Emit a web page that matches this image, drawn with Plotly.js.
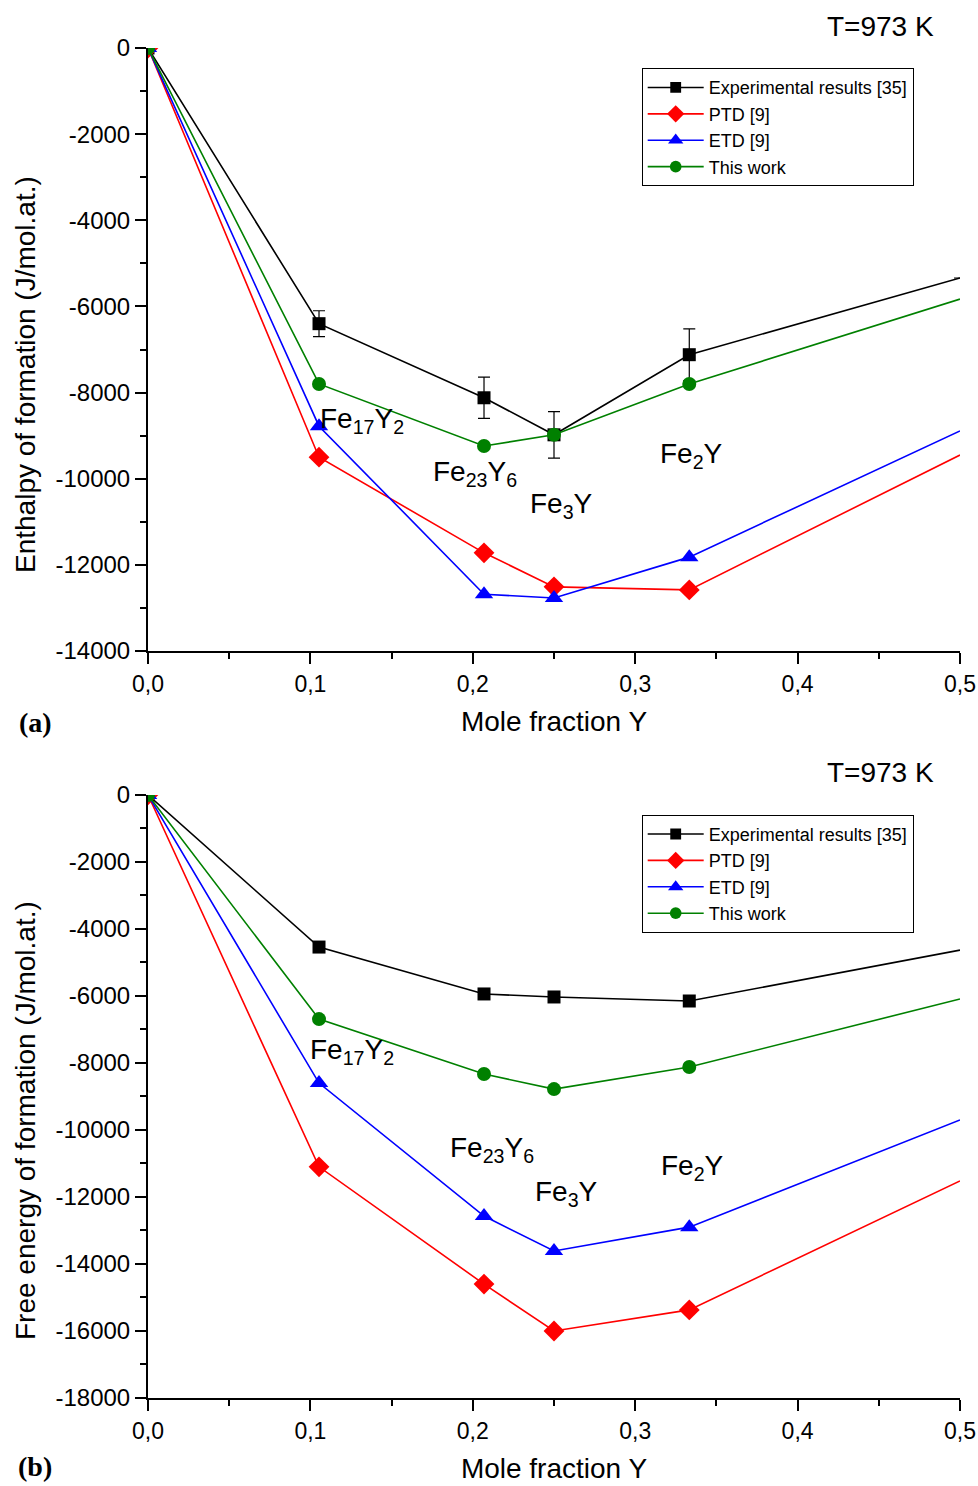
<!DOCTYPE html>
<html>
<head>
<meta charset="utf-8">
<script src="https://cdn.plot.ly/plotly-3.0.1.min.js"></script>
<style>html,body{margin:0;padding:0;background:#fff;}#chart{width:978px;height:1486px;}</style>
</head>
<body>
<div id="chart"></div>
<script>
// ---- data ----
var molefrac = [0, 0.1053, 0.2069, 0.25, 0.3333, 0.5];
var seriesNames = ["Experimental results [35]", "PTD [9]", "ETD [9]", "This work"];

// (a) Enthalpy of formation (J/mol.at.)
var enthExp  = [0, -6400, -8120, -8980, -7120, -5340];
var enthExpErr = [0, 300, 480, 540, 600, 0];
var enthPTD  = [0, -9500, -11720, -12510, -12580, -9450];
var enthETD  = [0, -8780, -12680, -12770, -11820, -8890];
var enthThis = [0, -7800, -9240, -8980, -7800, -5830];

// (b) Free energy of formation (J/mol.at.)
var gibbsExp  = [0, -4540, -5940, -6030, -6150, -4630];
var gibbsPTD  = [0, -11100, -14600, -16000, -15370, -11520];
var gibbsETD  = [0, -8600, -12570, -13610, -12900, -9700];
var gibbsThis = [0, -6690, -8330, -8780, -8120, -6090];

// phase labels
var phaseLabels = ["Fe<sub>17</sub>Y<sub>2</sub>", "Fe<sub>23</sub>Y<sub>6</sub>", "Fe<sub>3</sub>Y", "Fe<sub>2</sub>Y"];
var phaseXA = [0.1318, 0.2013, 0.2549, 0.3344];
var phaseYA = [-8640, -9870, -10610, -9470];
var phaseXB = [0.1256, 0.2118, 0.2574, 0.3350];
var phaseYB = [-7670, -10570, -11910, -11130];

// ticks
var xTickVals = [0, 0.1, 0.2, 0.3, 0.4, 0.5];
var xTickText = ["0,0", "0,1", "0,2", "0,3", "0,4", "0,5"];
var yTickValsA = [0, -2000, -4000, -6000, -8000, -10000, -12000, -14000];
var yTickTextA = ["0", "-2000", "-4000", "-6000", "-8000", "-10000", "-12000", "-14000"];
var yTickValsB = [0, -2000, -4000, -6000, -8000, -10000, -12000, -14000, -16000, -18000];
var yTickTextB = ["0", "-2000", "-4000", "-6000", "-8000", "-10000", "-12000", "-14000", "-16000", "-18000"];

// ---- styles ----
var colors = ["#000000", "#ff0000", "#0000ff", "#008000"];
var symbols = ["square", "diamond", "triangle-up", "circle"];
var sizes = [13, 16, 16, 14];
function sizeArr(base){ return molefrac.map(function(v){ return v >= 0.5 ? 0 : base; }); }

function makeTrace(i, yvals, xa, ya, legendId, err){
  var t = {
    type: "scatter", mode: "lines+markers",
    x: molefrac, y: yvals, name: seriesNames[i],
    xaxis: xa, yaxis: ya, legend: legendId,
    line: {color: colors[i], width: 1.6},
    marker: {color: colors[i], symbol: symbols[i], size: sizeArr(sizes[i]), opacity: 1, line: {width: 0}},
    hoverinfo: "x+y"
  };
  if (err) {
    t.error_y = {type: "data", array: err, visible: true, color: "#000000", thickness: 1.2, width: 6};
  }
  return t;
}

var traces = [
  makeTrace(0, enthExp, "x", "y", "legend", enthExpErr),
  makeTrace(1, enthPTD, "x", "y", "legend"),
  makeTrace(2, enthETD, "x", "y", "legend"),
  makeTrace(3, enthThis, "x", "y", "legend"),
  makeTrace(0, gibbsExp, "x2", "y2", "legend2"),
  makeTrace(1, gibbsPTD, "x2", "y2", "legend2"),
  makeTrace(2, gibbsETD, "x2", "y2", "legend2"),
  makeTrace(3, gibbsThis, "x2", "y2", "legend2")
];

var FONT = "Liberation Sans, Arial, Helvetica, sans-serif";
var tickFontX = {family: FONT, size: 23, color: "#000"};
var tickFontY = {family: FONT, size: 24, color: "#000"};
var axisTitleFont = {family: FONT, size: 28, color: "#000"};

function xAxis(anchor){
  return {
    anchor: anchor, domain: [0, 1], range: [0, 0.5],
    tickmode: "array", tickvals: xTickVals, ticktext: xTickText,
    ticks: "outside", ticklen: 11, tickwidth: 2, tickcolor: "#000",
    showline: true, linewidth: 2, linecolor: "#000",
    showgrid: false, zeroline: false, tickfont: tickFontX,
    minor: {tickmode: "linear", tick0: 0, dtick: 0.05, ticks: "outside", ticklen: 6, tickwidth: 2, tickcolor: "#000", showgrid: false},
    title: {text: "Mole fraction Y", font: axisTitleFont, standoff: 16}
  };
}
function yAxis(anchor, domain, range, tv, tt){
  return {
    anchor: anchor, domain: domain, range: range,
    tickmode: "array", tickvals: tv, ticktext: tt,
    ticks: "outside", ticklen: 11, tickwidth: 2, tickcolor: "#000",
    showline: true, linewidth: 2, linecolor: "#000",
    showgrid: false, zeroline: false, tickfont: tickFontY,
    minor: {tickmode: "linear", tick0: 0, dtick: 1000, ticks: "outside", ticklen: 6, tickwidth: 2, tickcolor: "#000", showgrid: false}
  };
}
function topAxis(overlay, anchor){
  return {
    overlaying: overlay, anchor: anchor, side: "top", range: [0, 0.5],
    tickmode: "linear", tick0: 0, dtick: 0.1, ticks: "inside", ticklen: 11, tickwidth: 2, tickcolor: "#000",
    showticklabels: false, showline: true, linewidth: 2, linecolor: "#000", showgrid: false, zeroline: false,
    minor: {tickmode: "linear", tick0: 0, dtick: 0.05, ticks: "inside", ticklen: 6, tickwidth: 2, tickcolor: "#000", showgrid: false}
  };
}
function rightAxis(overlay, anchor, range){
  return {
    overlaying: overlay, anchor: anchor, side: "right", range: range,
    tickmode: "linear", tick0: 0, dtick: 2000, ticks: "inside", ticklen: 11, tickwidth: 2, tickcolor: "#000",
    showticklabels: false, showline: true, linewidth: 2, linecolor: "#000", showgrid: false, zeroline: false,
    minor: {tickmode: "linear", tick0: 0, dtick: 1000, ticks: "inside", ticklen: 6, tickwidth: 2, tickcolor: "#000", showgrid: false}
  };
}

var domA = [0.5533, 1], domB = [0, 0.4467];

var annotations = [];
function addPhase(xs, ys, xref, yref){
  for (var i = 0; i < phaseLabels.length; i++){
    annotations.push({text: phaseLabels[i], x: xs[i], y: ys[i], xref: xref, yref: yref,
      showarrow: false, xanchor: "center", yanchor: "middle",
      font: {family: FONT, size: 28, color: "#000"}});
  }
}
addPhase(phaseXA, phaseYA, "x", "y");
addPhase(phaseXB, phaseYB, "x2", "y2");
function paperText(text, x, y, font, angle){
  annotations.push({text: text, xref: "paper", yref: "paper", x: x, y: y, showarrow: false,
    xanchor: "center", yanchor: "middle", textangle: angle || 0, font: font});
}
var tFont = {family: FONT, size: 28, color: "#000"};
var serifFont = {family: "Liberation Serif, Times New Roman, serif", size: 28, color: "#000"};
paperText("T=973 K", 0.9015, 1.0156, tFont);
paperText("T=973 K", 0.9015, 0.463, tFont);
paperText("<b>(a)</b>", -0.139, 0.5007, serifFont);
paperText("<b>(b)</b>", -0.139, -0.0511, serifFont);
paperText("Enthalpy of formation (J/mol.at.)", -0.1515, 0.7585, axisTitleFont, -90);
paperText("Free energy of formation (J/mol.at.)", -0.1515, 0.2059, axisTitleFont, -90);

var legendStyle = {
  xref: "paper", yref: "paper", xanchor: "left", yanchor: "top",
  bgcolor: "#ffffff", bordercolor: "#000000", borderwidth: 1,
  font: {family: FONT, size: 18, color: "#000"}, traceorder: "normal", tracegroupgap: 0, itemwidth: 56
};

var layout = {
  width: 978, height: 1486,
  margin: {l: 148, r: 18, t: 48, b: 88},
  paper_bgcolor: "#fff", plot_bgcolor: "#fff",
  font: {family: FONT, color: "#000"},
  separators: ",.",
  showlegend: true,
  legend: Object.assign({x: 0.608, y: 0.985}, legendStyle),
  legend2: Object.assign({x: 0.608, y: 0.432}, legendStyle),
  xaxis: xAxis("y"),
  yaxis: yAxis("x", domA, [-14000, 0], yTickValsA, yTickTextA),
  xaxis2: xAxis("y2"),
  yaxis2: yAxis("x2", domB, [-18000, 0], yTickValsB, yTickTextB),
  xaxis3: topAxis("x", "y"),
  yaxis3: rightAxis("y", "x", [-14000, 0]),
  xaxis4: topAxis("x2", "y2"),
  yaxis4: rightAxis("y2", "x2", [-18000, 0]),
  annotations: annotations
};

Plotly.newPlot("chart", traces, layout, {displayModeBar: false, staticPlot: true});
</script>
</body>
</html>
